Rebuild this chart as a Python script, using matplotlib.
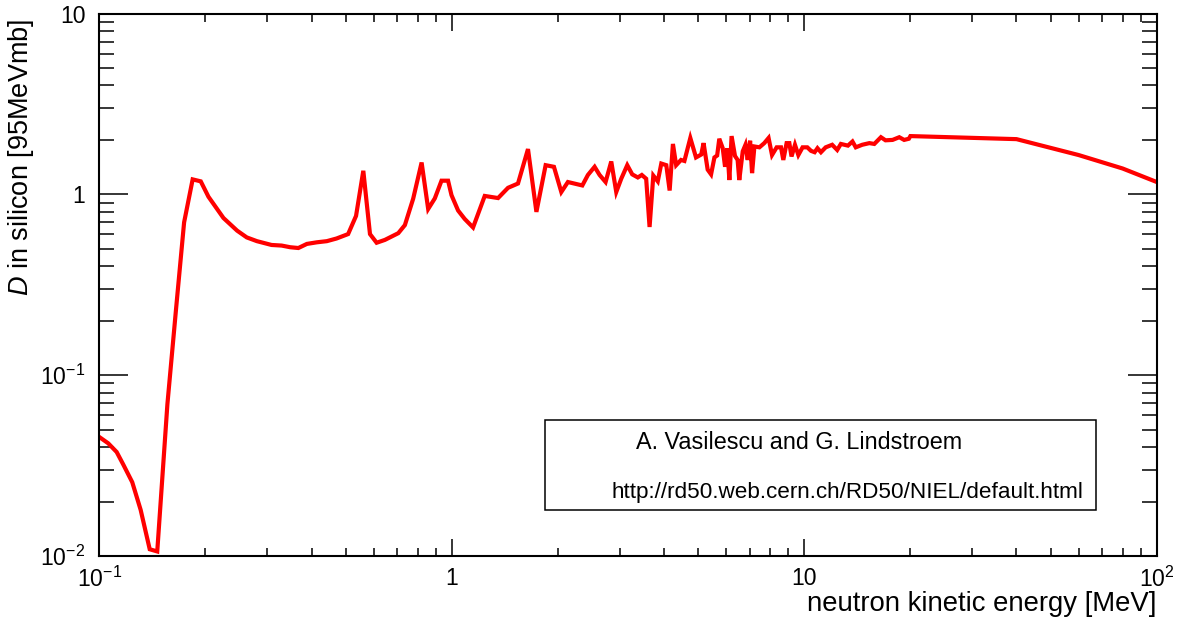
import numpy as np
import matplotlib
matplotlib.use("Agg")
import matplotlib.pyplot as plt
from matplotlib.ticker import LogLocator, FuncFormatter, NullFormatter
from matplotlib.patches import Rectangle

plt.rcParams['font.family'] = ['Liberation Sans', 'DejaVu Sans']
plt.rcParams['mathtext.fontset'] = 'custom'
plt.rcParams['mathtext.rm'] = 'Liberation Sans'
plt.rcParams['mathtext.it'] = 'Liberation Sans:italic'

# neutron kinetic energy [MeV] and displacement damage D [95 MeV mb]
energy = [0.100, 0.106, 0.112, 0.117, 0.124, 0.131, 0.139, 0.146, 0.156, 0.165,
          0.174, 0.184, 0.194, 0.204, 0.225, 0.246, 0.262, 0.280, 0.308, 0.329,
          0.348, 0.367, 0.388, 0.414, 0.442, 0.471, 0.508, 0.535, 0.561, 0.586,
          0.612, 0.646, 0.705, 0.736, 0.777, 0.821, 0.857, 0.895, 0.935, 0.976,
          0.998, 1.042, 1.088, 1.149, 1.240, 1.353, 1.444, 1.541, 1.645, 1.738,
          1.846, 1.949, 2.045, 2.135, 2.346, 2.433, 2.542, 2.626, 2.731, 2.834,
          2.928, 3.025, 3.146, 3.250, 3.371, 3.46, 3.56, 3.64, 3.73, 3.84,
          3.93, 4.06, 4.15, 4.24, 4.33, 4.47, 4.57, 4.75, 4.93, 5.10,
          5.18, 5.32, 5.44, 5.56, 5.66, 5.74, 5.87, 5.96, 6.05, 6.13,
          6.22, 6.36, 6.47, 6.54, 6.69, 6.81, 6.91, 7.02, 7.11, 7.22,
          7.46, 7.70, 7.92, 8.10, 8.35, 8.59, 8.72, 8.91, 9.07, 9.20,
          9.41, 9.62, 9.89, 10.2, 10.45, 10.7, 10.9, 11.15, 11.5, 12.0,
          12.4, 12.7, 13.3, 13.7, 14.0, 14.6, 15.3, 15.8, 16.5, 17.0,
          17.8, 18.6, 19.2, 19.8, 20.0, 40.0, 60.0, 80.0, 100.0]
damage = [0.0455, 0.042, 0.0376, 0.032, 0.0256, 0.018, 0.0109, 0.0106, 0.069, 0.23,
          0.70, 1.21, 1.18, 0.97, 0.74, 0.63, 0.578, 0.551, 0.525, 0.521,
          0.51, 0.505, 0.532, 0.543, 0.551, 0.57, 0.603, 0.76, 1.35, 0.603,
          0.54, 0.56, 0.61, 0.676, 0.946, 1.50, 0.83, 0.95, 1.19, 1.19,
          0.99, 0.814, 0.731, 0.656, 0.98, 0.954, 1.087, 1.148, 1.78, 0.80,
          1.45, 1.42, 1.03, 1.17, 1.12, 1.28, 1.42, 1.28, 1.17, 1.52,
          1.03, 1.22, 1.45, 1.29, 1.24, 1.28, 1.22, 0.66, 1.27, 1.18,
          1.48, 1.45, 1.05, 1.9, 1.45, 1.55, 1.53, 2.05, 1.6, 1.66,
          1.92, 1.37, 1.29, 1.6, 1.64, 2.03, 1.80, 1.42, 1.80, 1.20,
          2.1, 1.63, 1.55, 1.20, 1.73, 1.88, 1.55, 1.98, 1.31, 1.84,
          1.82, 1.92, 2.05, 1.65, 1.82, 1.82, 1.55, 1.92, 1.92, 1.62,
          1.88, 1.65, 1.82, 1.82, 1.74, 1.71, 1.80, 1.71, 1.82, 1.88,
          1.76, 1.90, 1.86, 1.96, 1.82, 1.88, 1.92, 1.90, 2.07, 1.99,
          2.00, 2.07, 2.00, 2.03, 2.10, 2.02, 1.65, 1.39, 1.17]

tick_text = {0.01: '$10^{-2}$', 0.1: '$10^{-1}$', 1: '1', 10: '10', 100: '$10^{2}$'}
legend_lines = ['A. Vasilescu and G. Lindstroem',
                'http://rd50.web.cern.ch/RD50/NIEL/default.html']


def fmt(v, pos):
    for k, s in tick_text.items():
        if abs(v - k) < 1e-9 * max(k, 1):
            return s
    return ''


fig = plt.figure(figsize=(11.88, 6.23), dpi=100)
ax = fig.add_axes([0.0836, 0.1075, 0.8901, 0.8708])

ax.plot(energy, damage, color='#ff0000', linewidth=3, solid_joinstyle='miter')

ax.set_xscale('log')
ax.set_yscale('log')
ax.set_xlim(0.1, 100)
ax.set_ylim(0.01, 10)

for axis in (ax.xaxis, ax.yaxis):
    axis.set_major_locator(LogLocator(base=10))
    axis.set_minor_locator(LogLocator(base=10, subs=np.arange(2, 10)))
    axis.set_major_formatter(FuncFormatter(fmt))
    axis.set_minor_formatter(NullFormatter())

ax.tick_params(which='both', direction='in', top=True, right=True, width=1.1, colors='black')
ax.tick_params(axis='x', which='major', length=12, pad=8, labelsize=16.5)
ax.tick_params(axis='x', which='minor', length=6)
ax.tick_params(axis='y', which='major', length=21, pad=10, labelsize=16.5)
ax.tick_params(axis='y', which='minor', length=10.5)
for sp in ax.spines.values():
    sp.set_linewidth(1.5)

ax.set_xlabel('neutron kinetic energy [MeV]', fontsize=19.8, loc='right')
ax.set_ylabel('$D$ in silicon [95MeVmb]', fontsize=19.5, loc='top')
ax.xaxis.set_label_coords(1.0, -0.064)
ax.yaxis.set_label_coords(-0.06, 0.99)

ax.add_patch(Rectangle((0.4215, 0.0848), 0.5215, 0.1659, transform=ax.transAxes,
                       fill=False, edgecolor='black', linewidth=1.1, zorder=5))
ax.text(0.5075, 0.197, legend_lines[0], transform=ax.transAxes, fontsize=16.8,
        ha='left', va='baseline')
ax.text(0.7076, 0.107, legend_lines[1], transform=ax.transAxes, fontsize=16.2,
        ha='center', va='baseline')

fig.savefig('out.png', dpi=100)
